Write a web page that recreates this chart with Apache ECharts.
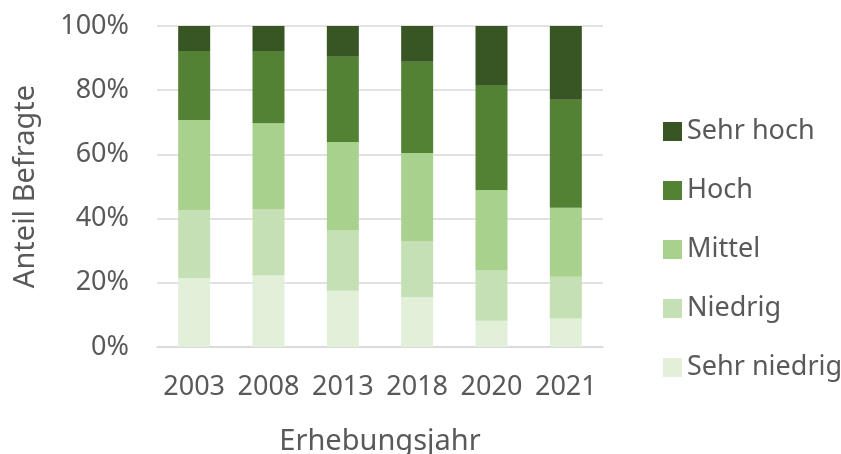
<!DOCTYPE html>
<html lang="de">
<head>
    <meta charset="UTF-8">
    <script src="https://cdn.jsdelivr.net/npm/echarts@6/dist/echarts.min.js"></script>
    <title>Anteil Befragte nach Erhebungsjahr</title>
    <style>
        html, body { margin: 0; padding: 0; background: #fff; }
        #main { width: 841px; height: 454px; }
    </style>
</head>
<body>
    <div id="main"></div>
    <script>
        var years = ['2003', '2008', '2013', '2018', '2020', '2021'];
        var sehrNiedrig = [21.5, 22.3, 17.5, 15.6, 8.2, 8.9];
        var niedrig     = [21.1, 20.5, 18.8, 17.4, 15.6, 13.0];
        var mittel      = [28.1, 26.9, 27.6, 27.4, 25.1, 21.5];
        var hoch        = [21.5, 22.5, 26.5, 28.5, 32.7, 33.6];
        var sehrHoch    = [7.8, 7.8, 9.6, 11.1, 18.4, 23.0];
        var yTicks = [0, 20, 40, 60, 80, 100];

        var chart = echarts.init(document.getElementById('main'));
        var font = '"Noto Sans", sans-serif';
        var grey = '#595959';

        function bar(name, data, color) {
            return {
                name: name, type: 'bar', stack: 'all', data: data,
                barWidth: 32,
                itemStyle: { color: color }
            };
        }

        var option = {
            animation: false,
            textStyle: { fontFamily: font },
            grid: { left: 157, right: 238, top: 26, bottom: 107, outerBoundsMode: 'none', containLabel: false },
            legend: {
                orient: 'vertical',
                left: 658,
                top: 113,
                itemWidth: 19,
                itemHeight: 19,
                itemGap: 32,
                icon: 'rect',
                data: ['Sehr hoch', 'Hoch', 'Mittel', 'Niedrig', 'Sehr niedrig'],
                textStyle: { fontSize: 27, color: grey, fontFamily: font }
            },
            xAxis: {
                type: 'category',
                data: years,
                name: 'Erhebungsjahr',
                nameLocation: 'middle',
                nameGap: 80,
                nameTextStyle: { fontSize: 29, color: grey, fontFamily: font },
                axisLine: { lineStyle: { color: '#d9d9d9', width: 1.5 } },
                axisTick: { show: false },
                axisLabel: { interval: 0, fontSize: 27, color: grey, margin: 27, fontFamily: font }
            },
            yAxis: {
                type: 'value',
                min: yTicks[0],
                max: yTicks[yTicks.length - 1],
                interval: 20,
                name: 'Anteil Befragte',
                nameLocation: 'middle',
                nameGap: 117,
                nameTextStyle: { fontSize: 29, color: grey, fontFamily: font },
                axisLine: { show: false },
                axisTick: { show: false },
                axisLabel: { fontSize: 27, color: grey, margin: 28, formatter: '{value}%', fontFamily: font },
                splitLine: { lineStyle: { color: '#d9d9d9', width: 1.5 } }
            },
            series: [
                bar('Sehr niedrig', sehrNiedrig, '#e2f0d9'),
                bar('Niedrig', niedrig, '#c5e0b4'),
                bar('Mittel', mittel, '#a9d18e'),
                bar('Hoch', hoch, '#548235'),
                bar('Sehr hoch', sehrHoch, '#375623')
            ]
        };

        chart.setOption(option);
    </script>
</body>
</html>
